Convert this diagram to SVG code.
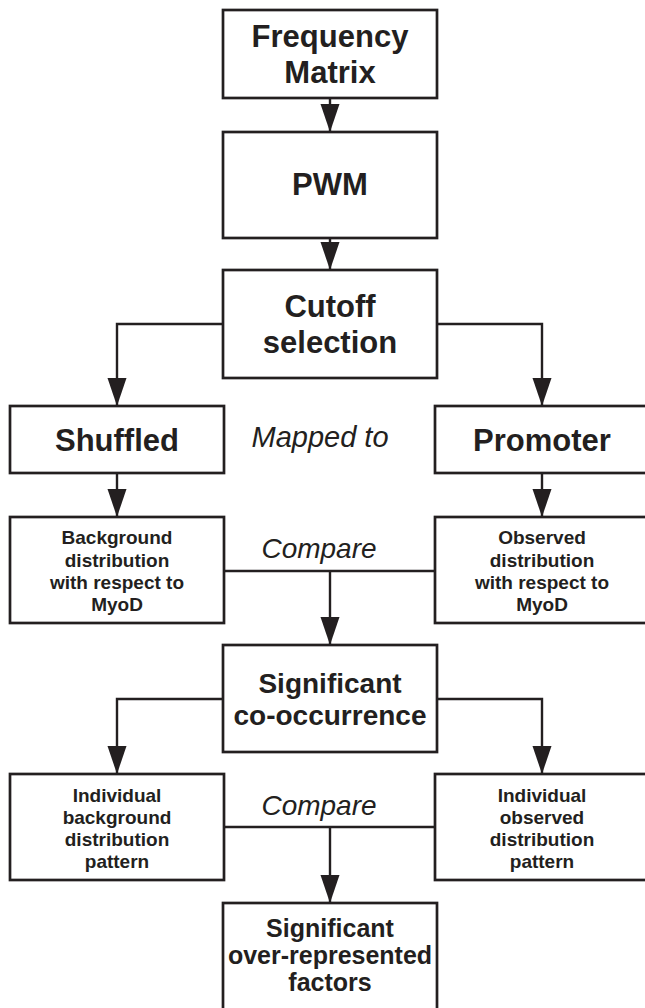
<svg xmlns="http://www.w3.org/2000/svg" width="645" height="1008" viewBox="0 0 645 1008">
<style>
.box{fill:#fff;stroke:#231f20;stroke-width:2.7}
.ln{fill:none;stroke:#231f20;stroke-width:2.4}
text{font-family:"Liberation Sans",Arial,sans-serif;fill:#231f20;text-anchor:middle}
.b31{font-weight:bold;font-size:31px}
.b28{font-weight:bold;font-size:28px}
.b25{font-weight:bold;font-size:25px}
.b19{font-weight:bold;font-size:19px}
.it{font-style:italic;font-size:28px}
</style>
<defs>
<marker id="ah" markerUnits="userSpaceOnUse" markerWidth="28" markerHeight="20" refX="28" refY="10" orient="auto">
<path d="M0,0.5 L28,10 L0,19.5 z" fill="#231f20"/>
</marker>
</defs>
<rect width="645" height="1008" fill="#fff"/>
<g id="connectors">
<line class="ln" x1="330" y1="98" x2="330" y2="132" marker-end="url(#ah)"/>
<line class="ln" x1="330" y1="238" x2="330" y2="270" marker-end="url(#ah)"/>
<polyline class="ln" points="223,324 117,324 117,406" marker-end="url(#ah)"/>
<polyline class="ln" points="437,324 542,324 542,406" marker-end="url(#ah)"/>
<line class="ln" x1="117" y1="473" x2="117" y2="517" marker-end="url(#ah)"/>
<line class="ln" x1="542" y1="473" x2="542" y2="517" marker-end="url(#ah)"/>
<line class="ln" x1="224" y1="571" x2="435" y2="571"/>
<line class="ln" x1="330" y1="571" x2="330" y2="645" marker-end="url(#ah)"/>
<polyline class="ln" points="223,699 117,699 117,774" marker-end="url(#ah)"/>
<polyline class="ln" points="437,699 542,699 542,774" marker-end="url(#ah)"/>
<line class="ln" x1="224" y1="827" x2="435" y2="827"/>
<line class="ln" x1="330" y1="827" x2="330" y2="903" marker-end="url(#ah)"/>
</g>
<g id="freq">
<rect class="box" x="223" y="10" width="214" height="88"/>
<text class="b31" x="330" y="47">Frequency</text>
<text class="b31" x="330" y="83">Matrix</text>
</g>
<g id="pwm">
<rect class="box" x="223" y="132" width="214" height="106"/>
<text class="b31" x="330" y="195">PWM</text>
</g>
<g id="cutoff">
<rect class="box" x="223" y="270" width="214" height="108"/>
<text class="b31" x="330" y="317">Cutoff</text>
<text class="b31" x="330" y="353">selection</text>
</g>
<g id="shuffled">
<rect class="box" x="10" y="406" width="214" height="67"/>
<text class="b31" x="117" y="451">Shuffled</text>
</g>
<g id="mapped">
<text class="it" x="320" y="447" style="font-size:29px">Mapped to</text>
</g>
<g id="promoter">
<rect class="box" x="435" y="406" width="214" height="67"/>
<text class="b31" x="542" y="451">Promoter</text>
</g>
<g id="background">
<rect class="box" x="10" y="517" width="214" height="106"/>
<text class="b19" x="117" y="544">Background</text>
<text class="b19" x="117" y="567">distribution</text>
<text class="b19" x="117" y="589">with respect to</text>
<text class="b19" x="117" y="611">MyoD</text>
</g>
<g id="observed">
<rect class="box" x="435" y="517" width="214" height="106"/>
<text class="b19" x="542" y="544">Observed</text>
<text class="b19" x="542" y="567">distribution</text>
<text class="b19" x="542" y="589">with respect to</text>
<text class="b19" x="542" y="611">MyoD</text>
</g>
<g id="compare1">
<text class="it" x="319" y="558">Compare</text>
</g>
<g id="cooccur">
<rect class="box" x="223" y="645" width="214" height="107"/>
<text class="b28" x="330" y="693">Significant</text>
<text class="b28" x="330" y="725">co-occurrence</text>
</g>
<g id="indbg">
<rect class="box" x="10" y="774" width="214" height="106"/>
<text class="b19" x="117" y="802">Individual</text>
<text class="b19" x="117" y="824">background</text>
<text class="b19" x="117" y="846">distribution</text>
<text class="b19" x="117" y="868">pattern</text>
</g>
<g id="indobs">
<rect class="box" x="435" y="774" width="214" height="106"/>
<text class="b19" x="542" y="802">Individual</text>
<text class="b19" x="542" y="824">observed</text>
<text class="b19" x="542" y="846">distribution</text>
<text class="b19" x="542" y="868">pattern</text>
</g>
<g id="compare2">
<text class="it" x="319" y="815">Compare</text>
</g>
<g id="overrep">
<rect class="box" x="223" y="903" width="214" height="115"/>
<text class="b25" x="330" y="937">Significant</text>
<text class="b25" x="330" y="964">over-represented</text>
<text class="b25" x="330" y="991">factors</text>
</g>
</svg>
